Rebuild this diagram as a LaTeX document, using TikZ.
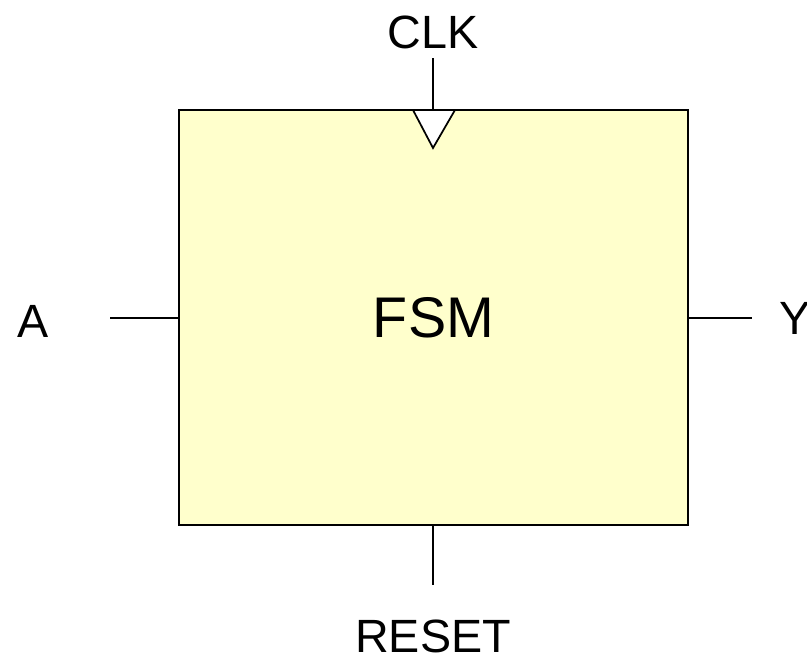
\documentclass[tikz,border=0pt]{standalone}
\usepackage{fontspec}
\setmainfont{Liberation Sans}
\definecolor{FSMYellow}{RGB}{255,255,204}
\usetikzlibrary{positioning}

\begin{document}
\begin{tikzpicture}[x=0.75pt, y=-0.75pt,
	blk/.style={draw=black, line width=1.3pt, fill=FSMYellow, minimum width=381.75pt, minimum height=311.25pt, inner sep=0pt, font=\fontsize{43}{47}\selectfont},
	lbl/.style={inner sep=0pt, font=\fontsize{35}{39}\selectfont},
	wire/.style={line width=1.3pt, black}]
	\useasboundingbox (0,0) rectangle (807,657);
	% block
	\node[blk] (fsm) at (433.5,317.5) {FSM};
	% clock input
	\node[lbl] (clk) at (433,32) {CLK};
	\coordinate (clktop) at (433,58);
	\coordinate (clkl) at (413,110); \coordinate (clkr) at (455,110);
	\coordinate (clktip) at (433,148);
	\draw[wire] (clktop)--(clktop |- fsm.north);
	\draw[wire, fill=white, line join=miter] (clkl)--(clktip)--(clkr)--cycle;
	% data in / out
	\node[lbl] (a) at (33,321) {A};
	\coordinate (aend) at (110,318);
	\draw[wire] (aend)--(aend -| fsm.west);
	\node[lbl, anchor=west] (y) at (779,318) {Y};
	\coordinate (yend) at (752,318);
	\draw[wire] (yend -| fsm.east)--(yend);
	% reset
	\node[lbl] (rst) at (433,636) {RESET};
	\coordinate (rstend) at (433,585);
	\draw[wire] (rstend |- fsm.south)--(rstend);
\end{tikzpicture}
\end{document}
